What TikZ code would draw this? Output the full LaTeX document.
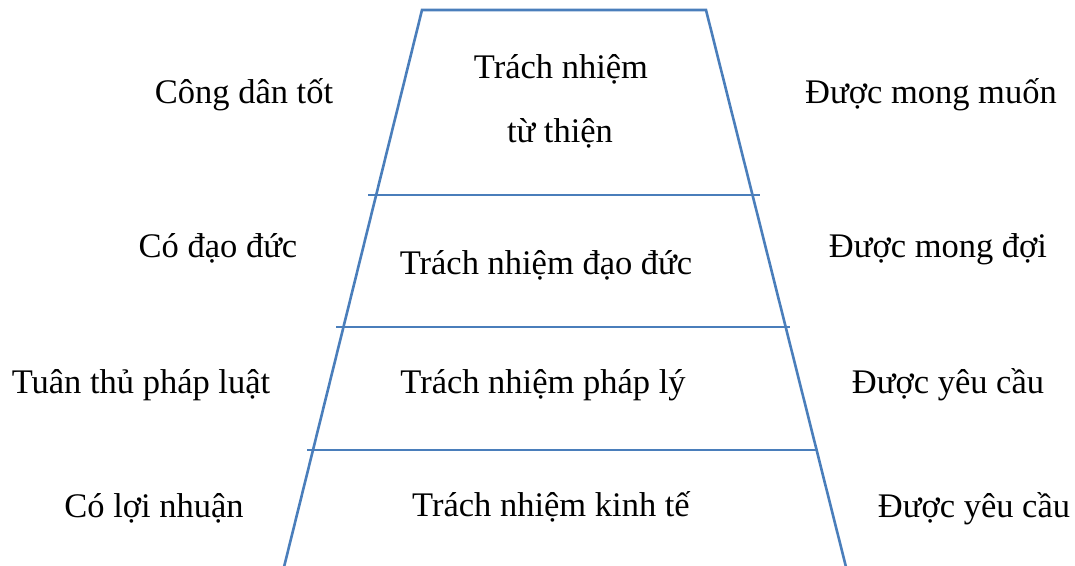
\documentclass[tikz,border=0pt]{standalone}
\usepackage{fontspec}
\setmainfont{Liberation Serif}
\begin{document}
\begin{tikzpicture}[x=1pt,y=-1pt,
  edge/.style={draw=pyrblue,line width=2.6pt},
  lbl/.style={anchor=base,inner sep=0pt,font=\fontsize{34.5}{42}\selectfont}]
\definecolor{pyrblue}{HTML}{4A7EBB}
\useasboundingbox (0,0) rectangle (1075,565);

% outline of the pyramid (open at the bottom)
\coordinate (tl) at (422,10);
\coordinate (tr) at (706,10);
\coordinate (bl) at (284,567);
\coordinate (br) at (846,567);
\draw[edge,line join=miter] (bl) -- (tl) -- (tr) -- (br);

% level separators
\coordinate (a1) at (368,195); \coordinate (b1) at (760,195);
\coordinate (a2) at (336,327); \coordinate (b2) at (790,327);
\coordinate (a3) at (307,450); \coordinate (b3) at (818,450);
\draw[edge] (a1) -- (b1);
\draw[edge] (a2) -- (b2);
\draw[edge] (a3) -- (b3);

% level names
\node[lbl] (c1a) at (561,78) {Trách nhiệm};
\node[lbl] (c1b) at (560,142) {từ thiện};
\node[lbl] (c2) at (546,274) {Trách nhiệm đạo đức};
\node[lbl] (c3) at (543,393) {Trách nhiệm pháp lý};
\node[lbl] (c4) at (551,516) {Trách nhiệm kinh tế};

% left column
\node[lbl] (l1) at (244,103) {Công dân tốt};
\node[lbl] (l2) at (218,257) {Có đạo đức};
\node[lbl] (l3) at (141,393) {Tuân thủ pháp luật};
\node[lbl] (l4) at (154,517) {Có lợi nhuận};

% right column
\node[lbl] (r1) at (931,103) {Được mong muốn};
\node[lbl] (r2) at (938,257) {Được mong đợi};
\node[lbl] (r3) at (948,393) {Được yêu cầu};
\node[lbl] (r4) at (974,517) {Được yêu cầu};
\end{tikzpicture}
\end{document}
